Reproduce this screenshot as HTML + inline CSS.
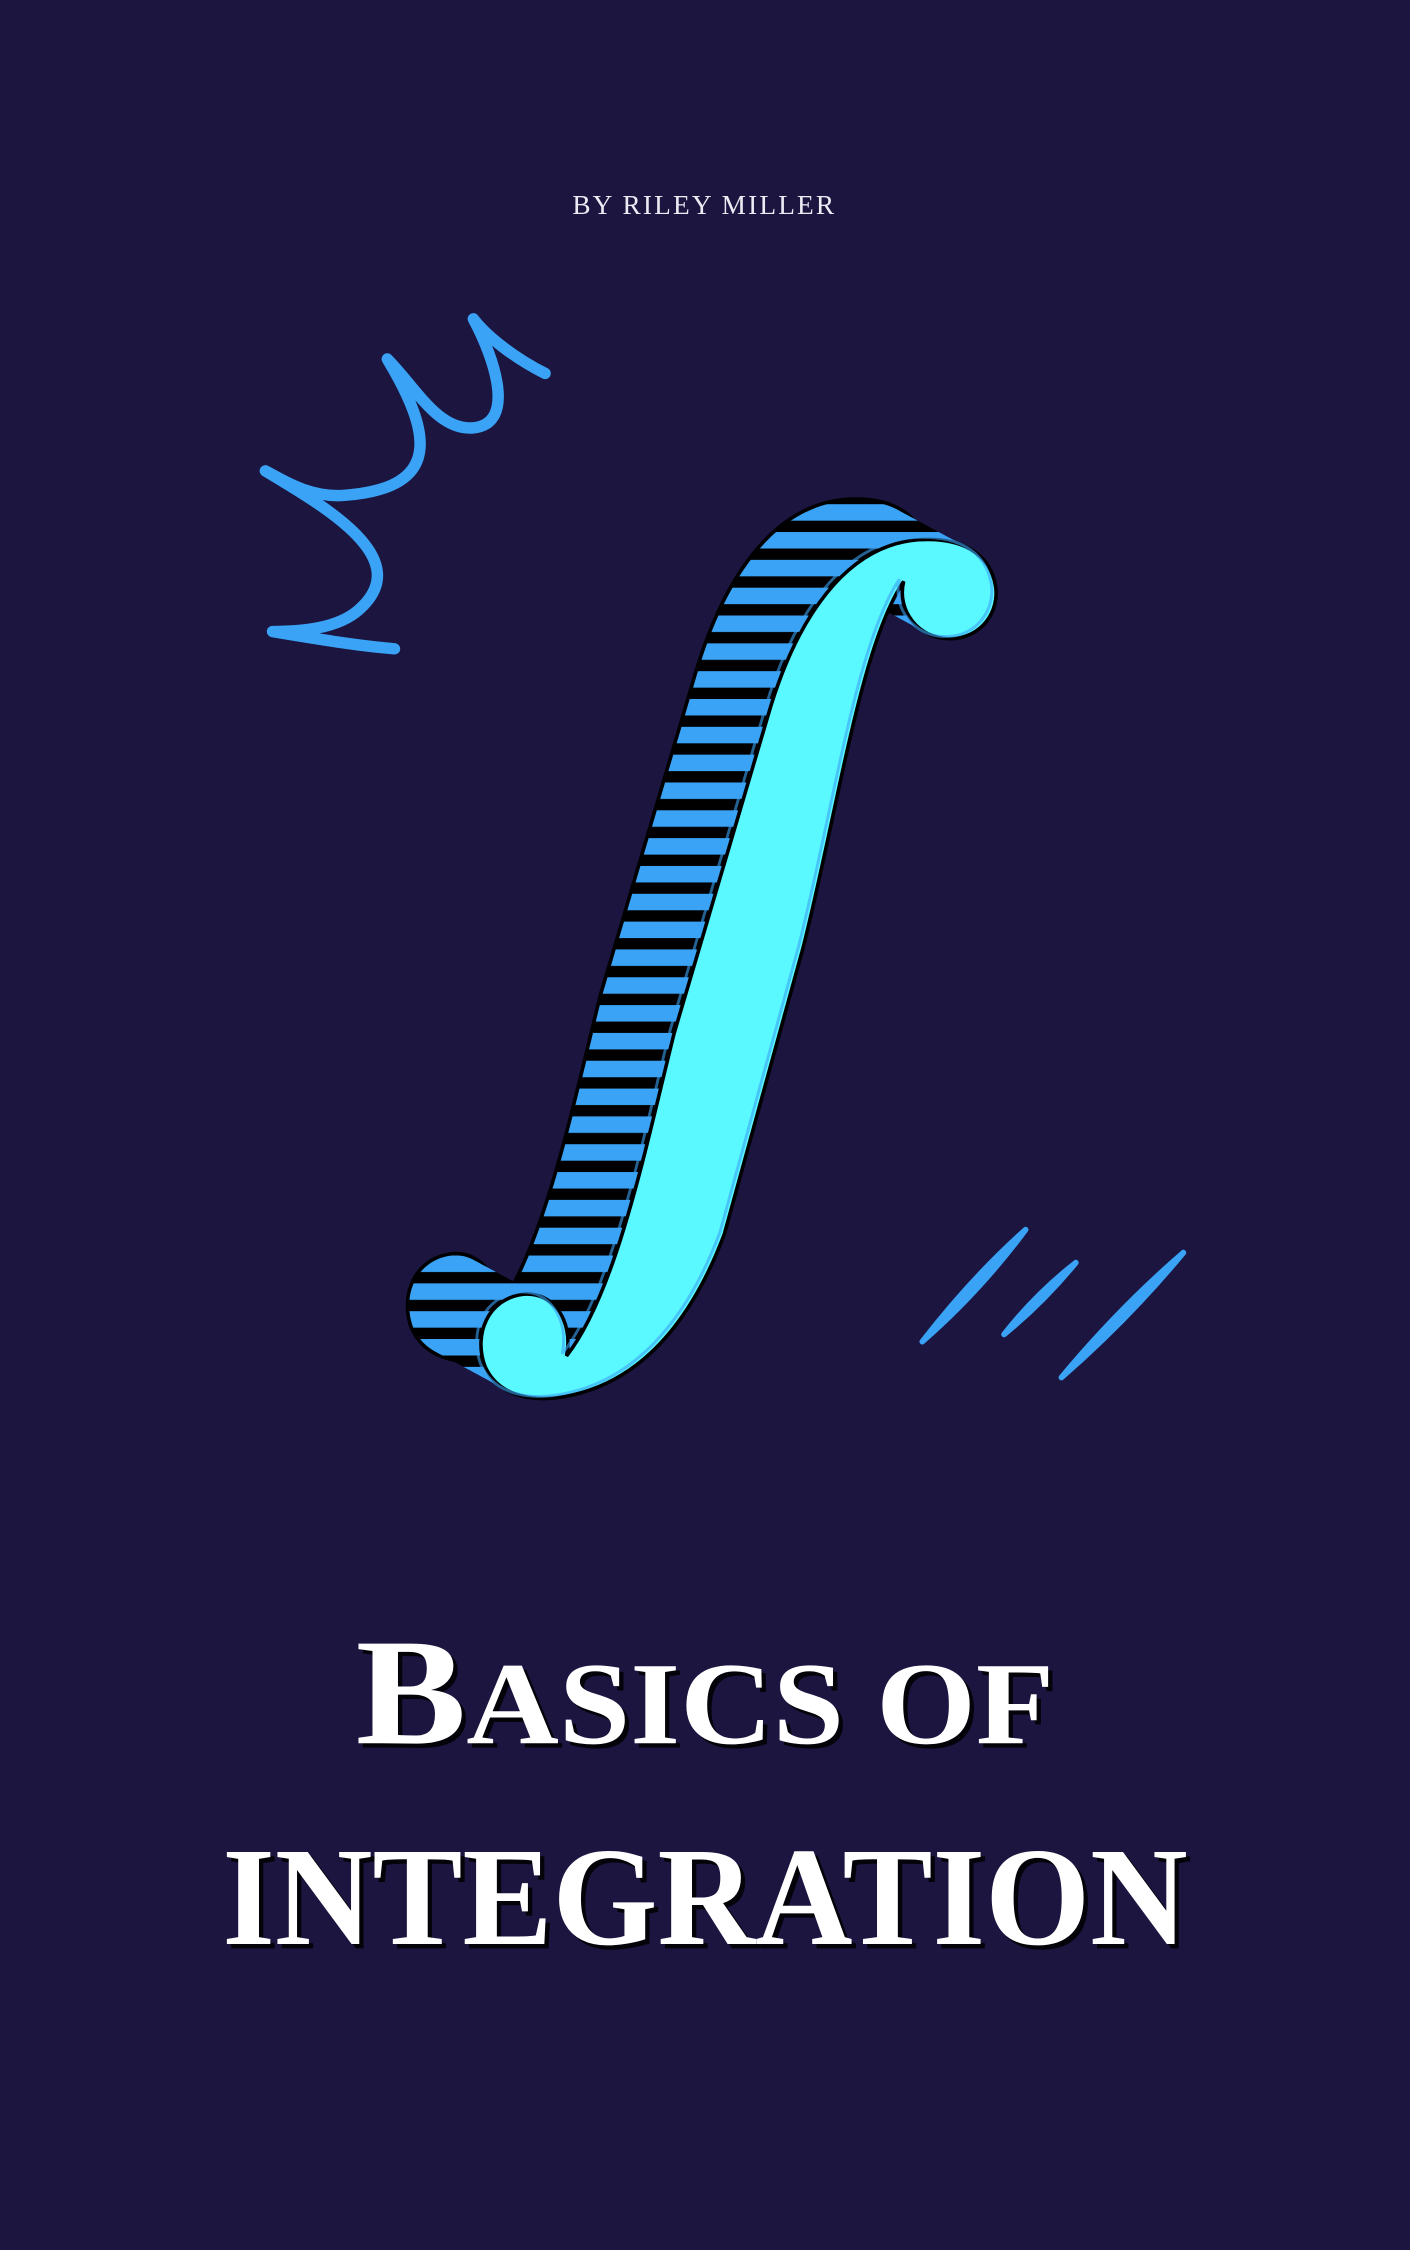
<!DOCTYPE html>
<html><head><meta charset="utf-8"><style>
html,body{margin:0;padding:0;background:#1b1540;}
svg{display:block}
</style></head><body>
<svg width="1410" height="2250" viewBox="0 0 983 1568" xmlns="http://www.w3.org/2000/svg">
<defs>
<pattern id="stripes" patternUnits="userSpaceOnUse" width="20" height="19.4" y="2">
<rect width="20" height="19.4" fill="#000"/>
<rect y="0" width="20" height="11.5" fill="#3aa3f5"/>
</pattern>
<path id="integral" d="M 630,405 C 625,425 640,445 662,445 C 685,445 697,425 694,408 C 690,385 670,374 640,376 C 590,380 555,430 535,500 L 470,720 C 450,800 430,900 395,945 C 400,920 385,900 365,902 C 340,905 330,930 338,952 C 348,975 375,978 400,972 C 460,958 490,900 505,860 L 560,660 C 585,560 600,450 630,405 Z"/>
<clipPath id="extr">
<use href="#integral" transform="translate(-50,-27)"/>
<use href="#integral" transform="translate(-47.5,-25.65)"/>
<use href="#integral" transform="translate(-45,-24.3)"/>
<use href="#integral" transform="translate(-42.5,-22.95)"/>
<use href="#integral" transform="translate(-40,-21.6)"/>
<use href="#integral" transform="translate(-37.5,-20.25)"/>
<use href="#integral" transform="translate(-35,-18.9)"/>
<use href="#integral" transform="translate(-32.5,-17.55)"/>
<use href="#integral" transform="translate(-30,-16.2)"/>
<use href="#integral" transform="translate(-27.5,-14.85)"/>
<use href="#integral" transform="translate(-25,-13.5)"/>
<use href="#integral" transform="translate(-22.5,-12.15)"/>
<use href="#integral" transform="translate(-20,-10.8)"/>
<use href="#integral" transform="translate(-17.5,-9.45)"/>
<use href="#integral" transform="translate(-15,-8.1)"/>
<use href="#integral" transform="translate(-12.5,-6.75)"/>
<use href="#integral" transform="translate(-10,-5.4)"/>
<use href="#integral" transform="translate(-7.5,-4.05)"/>
<use href="#integral" transform="translate(-5,-2.7)"/>
<use href="#integral" transform="translate(-2.5,-1.35)"/>
<use href="#integral"/>
</clipPath>
</defs>
<rect width="983" height="1568" fill="#1b1540"/>
<text x="491" y="149" text-anchor="middle" font-family="Liberation Serif, serif" font-size="19" fill="#ecebf3" letter-spacing="1.5" textLength="184" lengthAdjust="spacingAndGlyphs">BY RILEY MILLER</text>

<path d="M 380,260 C 360,250 340,235 330,222 C 345,250 360,295 330,298 C 305,300 290,270 270,250 C 300,300 310,340 240,345 C 215,347 195,333 185,328 C 230,355 290,390 250,425 C 235,438 210,440 190,440 C 220,445 250,450 275,452" fill="none" stroke="#3aa3f5" stroke-width="8" stroke-linecap="round" stroke-linejoin="round"/>

<g>
<use href="#integral" transform="translate(-50,-27)" fill="#000" stroke="#000" stroke-width="5"/>
<rect x="250" y="320" width="460" height="670" fill="url(#stripes)" clip-path="url(#extr)"/>
<use href="#integral" fill="#5af8ff" stroke="#000" stroke-width="2.5"/>
<use href="#integral" transform="translate(-3,-1.5)" fill="none" stroke="#3aa3f5" stroke-width="2" opacity="0.6"/>
</g>

<g fill="#3aa3f5">
<path d="M 643,935 Q 683,900 715,857 Q 678,890 643,935 Z" stroke="#3aa3f5" stroke-width="4" stroke-linejoin="round"/>
<path d="M 700,930 Q 727,908 750,880 Q 722,902 700,930 Z" stroke="#3aa3f5" stroke-width="4" stroke-linejoin="round"/>
<path d="M 740,960 Q 786,920 825,873 Q 780,912 740,960 Z" stroke="#3aa3f5" stroke-width="4" stroke-linejoin="round"/>
</g>

<g font-family="Liberation Serif, serif" font-weight="bold">
<text x="251" y="1218" fill="#000" opacity="0.85" textLength="487" lengthAdjust="spacingAndGlyphs"><tspan font-size="106">B</tspan><tspan font-size="82">ASICS OF</tspan></text>
<text x="248" y="1215" fill="#ffffff" textLength="487" lengthAdjust="spacingAndGlyphs"><tspan font-size="106">B</tspan><tspan font-size="82">ASICS OF</tspan></text>
<text x="158" y="1358" font-size="98" fill="#000" opacity="0.85" textLength="673" lengthAdjust="spacingAndGlyphs">INTEGRATION</text>
<text x="155" y="1355" font-size="98" fill="#ffffff" textLength="673" lengthAdjust="spacingAndGlyphs">INTEGRATION</text>
</g>
</svg>
</body></html>
